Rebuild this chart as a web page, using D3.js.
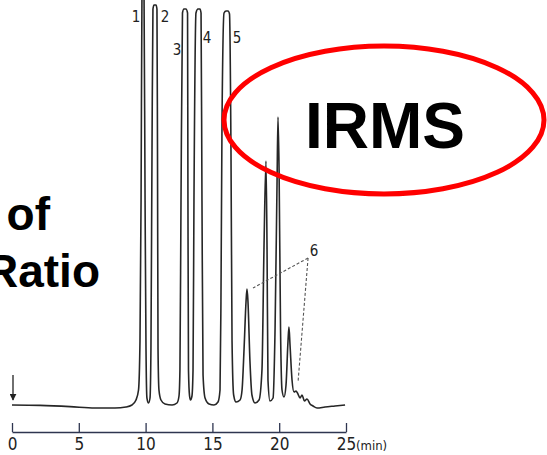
<!DOCTYPE html>
<html lang="en">
<head>
  <meta charset="UTF-8">
  <title>Chromatogram - IRMS</title>
  <script src="https://d3js.org/d3.v7.min.js"></script>
  <style>
    body { margin: 0; background: #fff; }
    svg { display: block; }
    .num { font-family: "Liberation Sans Narrow", "DejaVu Sans Condensed", sans-serif; fill: #222; }
    .big { font-family: "Liberation Sans", Arial, sans-serif; font-weight: bold; fill: #000; }
  </style>
</head>
<body>
  <div id="chart"></div>
  <script>
    // detector trace (time in min, signal in % of full scale)
    const traceTime = [0, 2.10, 4.34, 6.21, 7.71, 8.53, 8.98, 9.28, 9.47, 9.58,
      9.66, 9.73, 9.81, 9.88, 9.96, 10.03, 10.10, 10.22, 10.33, 10.40,
      10.48, 10.55, 10.63, 10.78, 10.85, 10.89, 10.93, 11.00, 11.15, 11.45,
      11.98, 12.35, 12.50, 12.57, 12.65, 12.76, 12.87, 13.02, 13.14, 13.17,
      13.21, 13.29, 13.36, 13.47, 13.55, 13.62, 13.77, 13.92, 14.07, 14.15,
      14.22, 14.30, 14.45, 14.75, 15.12, 15.42, 15.57, 15.64, 15.72, 15.87,
      16.02, 16.17, 16.28, 16.39, 16.47, 16.59, 16.77, 17.07, 17.22, 17.37,
      17.52, 17.59, 17.66, 17.81, 17.96, 18.19, 18.49, 18.71, 18.86, 19.01,
      19.09, 19.16, 19.31, 19.54, 19.69, 19.84, 19.91, 19.99, 20.10, 20.21,
      20.36, 20.51, 20.66, 20.73, 20.81, 20.96, 21.11, 21.26, 21.37, 21.56,
      21.71, 21.89, 22.08, 22.31, 22.53, 22.83, 23.43, 24.18, 24.93];
    const traceSignal = [0, -0.1, -0.4, -0.75, -0.75, -0.5, 0, 1.25, 3.75, 16,
      51, 104, 111, 104, 51, 14, 1.75, 0.5, 1.75, 14,
      64, 99, 100, 100, 99, 64, 14, 3.75, 1.25, 0.25,
      0, 0.5, 2.25, 8.75, 51, 98, 99, 99, 98, 51,
      8.75, 2.25, 1.25, 2.25, 8.75, 51, 98, 99, 99, 98,
      51, 7.5, 1.75, 0.25, 0, 0.75, 3.75, 26, 71, 98,
      98.5, 98.5, 97.75, 64, 16, 2.5, 0.75, 1.25, 3.75, 14,
      26, 29, 26, 11, 2.5, 0.5, 1.25, 8.75, 39, 61,
      39, 6.25, 1, 1.75, 19, 56, 72, 59, 19, 3.75,
      2, 5, 16, 19.5, 15, 6.25, 3.25, 3.5, 3, 1.75,
      2.5, 1, 1.5, 0.25, -0.25, -0.75, -0.5, -0.25, 0];

    // peak numbers
    const peakNames = ["1", "2", "3", "4", "5", "6"];
    const peakNameTime = [9.28, 11.45, 12.35, 14.60, 16.84, 22.60];
    const peakNameSignal = [95.75, 95.75, 87.5, 90.5, 90.5, 37.25];

    // leader lines for peak group 6: from the label corner to the peaks
    const leaderFrom = [22.16, 36.75];
    const leaderToTime = [18.04, 21.41];
    const leaderToSignal = [29.25, 5.75];

    const tickValues = [0, 5, 10, 15, 20, 25];
    const unitLabel = "(min)";
    const injection = [0, 7.5, 1.25]; // time, arrow start, arrow end

    const width = 547, height = 455;
    const axisY = 432;

    const x = d3.scaleLinear().domain([0, 25]).range([12, 346]);
    const y = d3.scaleLinear().domain([0, 100]).range([405, 5]);

    const svg = d3.select('#chart').append('svg')
      .attr('width', width)
      .attr('height', height);

    svg.append('rect').attr('width', width).attr('height', height).attr('fill', '#fff');

    // left side text (slide title, cut off at the left edge like the original)
    svg.append('text').attr('class', 'big')
      .attr('x', 50).attr('y', 230)
      .attr('text-anchor', 'end')
      .style('font-size', '46px')
      .text('of');
    svg.append('text').attr('class', 'big')
      .attr('x', 100).attr('y', 287)
      .attr('text-anchor', 'end')
      .style('font-size', '46px')
      .text('Ratio');

    // trace
    const trace = traceTime.map((t, i) => [t, traceSignal[i]]);
    const line = d3.line()
      .x(d => x(d[0]))
      .y(d => y(d[1]))
      .curve(d3.curveMonotoneX);

    svg.append('path')
      .datum(trace)
      .attr('d', line)
      .attr('fill', 'none')
      .attr('stroke', '#262626')
      .attr('stroke-width', 1.6)
      .attr('stroke-linejoin', 'round');

    // leader lines for peak 6
    leaderToTime.forEach((t, i) => {
      svg.append('line')
        .attr('x1', x(leaderFrom[0])).attr('y1', y(leaderFrom[1]))
        .attr('x2', x(t)).attr('y2', y(leaderToSignal[i]))
        .attr('stroke', '#555')
        .attr('stroke-width', 1.1)
        .attr('stroke-dasharray', '3,2');
    });

    // peak labels
    svg.selectAll('.peak-label')
      .data(peakNames)
      .enter()
      .append('text')
      .attr('class', 'num peak-label')
      .attr('x', (d, i) => x(peakNameTime[i]))
      .attr('y', (d, i) => y(peakNameSignal[i]))
      .attr('text-anchor', 'middle')
      .style('font-size', '15px')
      .text(d => d);

    // injection arrow
    svg.append('defs').append('marker')
      .attr('id', 'arrow')
      .attr('viewBox', '0 0 10 10')
      .attr('refX', 9).attr('refY', 5)
      .attr('markerWidth', 7).attr('markerHeight', 7)
      .attr('markerUnits', 'userSpaceOnUse')
      .attr('orient', 'auto')
      .append('path')
      .attr('d', 'M0,0 L10,5 L0,10 Z')
      .attr('fill', '#222');

    svg.append('line')
      .attr('x1', x(injection[0]) + 1).attr('y1', y(injection[1]))
      .attr('x2', x(injection[0]) + 1).attr('y2', y(injection[2]))
      .attr('stroke', '#222')
      .attr('stroke-width', 1.3)
      .attr('marker-end', 'url(#arrow)');

    // time axis
    const axis = svg.append('g')
      .attr('transform', `translate(0, ${axisY})`)
      .call(d3.axisBottom(x)
        .tickValues(tickValues)
        .tickSizeInner(-9)
        .tickSizeOuter(0)
        .tickPadding(6)
        .tickFormat(d3.format('d')));

    axis.select('.domain').attr('stroke', '#2e3550').attr('stroke-width', 1.6);
    axis.selectAll('.tick line').attr('stroke', '#2e3550').attr('stroke-width', 1.3);
    axis.selectAll('.tick text')
      .attr('class', 'num')
      .attr('fill', '#222')
      .style('font-size', '17px')
      .style('font-family', '"Liberation Sans Narrow", "DejaVu Sans Condensed", sans-serif');

    svg.append('text').attr('class', 'num')
      .attr('x', x(25) + 10)
      .attr('y', axisY + 18)
      .style('font-size', '13px')
      .text(unitLabel);

    // red ellipse with IRMS
    svg.append('ellipse')
      .attr('cx', 384).attr('cy', 120)
      .attr('rx', 160).attr('ry', 74)
      .attr('fill', 'none')
      .attr('stroke', '#ff0000')
      .attr('stroke-width', 5);

    svg.append('text').attr('class', 'big')
      .attr('x', 385).attr('y', 148)
      .attr('text-anchor', 'middle')
      .style('font-size', '64px')
      .text('IRMS');
  </script>
</body>
</html>
